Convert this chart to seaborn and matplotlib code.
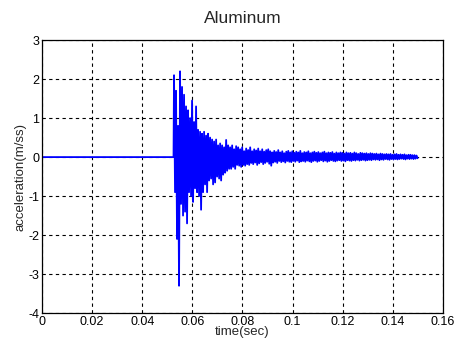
import numpy as np
import pandas as pd
import seaborn as sns
import matplotlib.pyplot as plt

# quiet part before the hit
quiet_time = [0.0, 0.0525]
quiet_acc = [0.0, 0.0]

# burst: upper / lower swing, one pair every 0.0008 s
burst_start = 0.0527
step = 0.0004
upper = [
    2.10, 1.70, 0.80, 2.20, 1.80, 1.60, 1.30, 1.20, 1.00, 1.45,
    0.90, 1.30, 0.70, 0.65, 0.60, 0.65, 0.55, 0.60, 0.50, 0.45,
    0.40, 0.45, 0.30, 0.35, 0.30, 0.25, 0.44, 0.30, 0.25, 0.30,
    0.20, 0.28, 0.25, 0.20, 0.25, 0.15, 0.22, 0.18, 0.25, 0.15,
    0.20, 0.17, 0.22, 0.15, 0.20, 0.14, 0.18, 0.20, 0.15, 0.12,
    0.16, 0.13, 0.18, 0.12, 0.15, 0.10, 0.14, 0.16, 0.12, 0.15,
    0.11, 0.14, 0.12, 0.16, 0.10, 0.13, 0.12, 0.15, 0.10, 0.12,
    0.14, 0.11, 0.13, 0.10, 0.12, 0.14, 0.10, 0.12, 0.11, 0.13,
    0.09, 0.12, 0.10, 0.12, 0.11, 0.09, 0.12, 0.10, 0.11, 0.09,
    0.12, 0.10, 0.08, 0.11, 0.10, 0.09, 0.10, 0.08, 0.10, 0.09,
    0.08, 0.09, 0.07, 0.09, 0.08, 0.07, 0.08, 0.07, 0.08, 0.06,
    0.07, 0.08, 0.06, 0.07, 0.06, 0.07, 0.05, 0.06, 0.06, 0.05,
    0.05, 0.04,
]
lower = [
    -0.90, -2.10, -3.30, -1.20, -1.50, -1.40, -1.70, -0.90, -1.00, -1.15,
    -0.80, -0.90, -1.00, -1.35, -0.90, -0.70, -0.90, -0.60, -0.55, -0.70,
    -0.65, -0.50, -0.55, -0.60, -0.45, -0.40, -0.35, -0.30, -0.30, -0.25,
    -0.30, -0.20, -0.22, -0.25, -0.20, -0.22, -0.18, -0.20, -0.15, -0.18,
    -0.14, -0.20, -0.16, -0.13, -0.18, -0.15, -0.12, -0.17, -0.22, -0.14,
    -0.12, -0.15, -0.10, -0.13, -0.11, -0.14, -0.10, -0.12, -0.13, -0.10,
    -0.12, -0.09, -0.13, -0.11, -0.10, -0.12, -0.09, -0.11, -0.13, -0.10,
    -0.09, -0.12, -0.10, -0.08, -0.11, -0.09, -0.12, -0.10, -0.08, -0.10,
    -0.11, -0.09, -0.08, -0.10, -0.09, -0.11, -0.08, -0.09, -0.10, -0.08,
    -0.09, -0.07, -0.09, -0.08, -0.07, -0.09, -0.08, -0.07, -0.08, -0.06,
    -0.07, -0.06, -0.08, -0.06, -0.07, -0.05, -0.06, -0.07, -0.05, -0.06,
    -0.05, -0.06, -0.05, -0.04, -0.05, -0.06, -0.04, -0.05, -0.04, -0.05,
    -0.04, -0.03,
]

x_ticks = [0, 0.02, 0.04, 0.06, 0.08, 0.1, 0.12, 0.14, 0.16]
x_labels = ["0", "0.02", "0.04", "0.06", "0.08", "0.1", "0.12", "0.14", "0.16"]
y_ticks = [-4, -3, -2, -1, 0, 1, 2, 3]

# interleave the swings into one trace
swing = []
for hi, lo in zip(upper, lower):
    swing += [hi, lo]
burst_time = burst_start + step * np.arange(len(swing))

df = pd.DataFrame({
    "time": np.concatenate([quiet_time, burst_time]),
    "acc": np.concatenate([quiet_acc, swing]),
})

sns.set_style("white")
plt.rcParams["font.family"] = ["Liberation Sans", "DejaVu Sans"]
plt.rcParams["axes.unicode_minus"] = False

fig = plt.figure(figsize=(4.55, 3.49), dpi=100)
ax = fig.add_axes([0.0923, 0.103, 0.881, 0.782])

sns.lineplot(data=df, x="time", y="acc", ax=ax, color="#0000ff",
             linewidth=1.3, estimator=None, sort=False)

ax.set_xlim(0, 0.16)
ax.set_ylim(-4, 3)
ax.set_xticks(x_ticks)
ax.set_xticklabels(x_labels)
ax.set_yticks(y_ticks)
ax.grid(True, color="black", linestyle=(0, (3, 3)), linewidth=0.8)
ax.tick_params(direction="in", length=3, labelsize=9, pad=2, colors="black")
for s in ax.spines.values():
    s.set_color("black")
    s.set_linewidth(0.9)

ax.set_title("Aluminum", fontsize=12.5, pad=12)
ax.set_xlabel("time(sec)", fontsize=9.5, labelpad=-1)
ax.set_ylabel("acceleration(m/ss)", fontsize=9.5, labelpad=1)

fig.savefig("out.png", dpi=100)
